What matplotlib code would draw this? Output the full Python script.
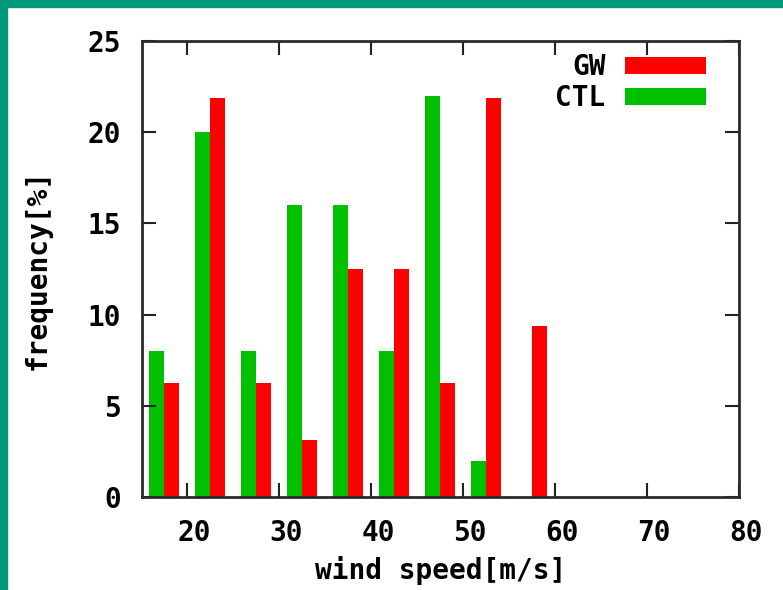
import matplotlib
matplotlib.use("Agg")
import matplotlib.pyplot as plt
import matplotlib.transforms as mtransforms
import numpy as np

# Данные гистограммы (центры интервалов скорости ветра)
bin_centers = [17.5, 22.5, 27.5, 32.5, 37.5, 42.5, 47.5, 52.5, 57.5]
ctl_freq = [8, 20, 8, 16, 16, 8, 22, 2, 0]
gw_freq = [6.25, 21.875, 6.25, 3.125, 12.5, 12.5, 6.25, 21.875, 9.375]
x_ticks = [20, 30, 40, 50, 60, 70, 80]
y_ticks = [0, 5, 10, 15, 20, 25]

plt.rcParams['font.family'] = ['DejaVu Sans Mono']
plt.rcParams['font.weight'] = 'bold'
plt.rcParams['axes.labelweight'] = 'bold'

W, H = 783, 590
fig = plt.figure(figsize=(W / 100, H / 100), dpi=100)
fig.patch.set_facecolor('white')

# зелёная рамка сверху и слева
fig.add_artist(plt.Rectangle((0, 1 - 7 / H), 1, 7 / H, transform=fig.transFigure,
                             color='#00997a', zorder=0))
fig.add_artist(plt.Rectangle((0, 0), 7 / W, 1, transform=fig.transFigure,
                             color='#00997a', zorder=0))

ax = fig.add_axes([142 / W, (H - 497) / H, (739 - 142) / W, (497 - 41) / H])

width = 1.6
x = np.array(bin_centers)
b_ctl = ax.bar(x - width / 2, ctl_freq, width=width, color='#00c000', linewidth=0)
b_gw = ax.bar(x + width / 2, gw_freq, width=width, color='#ff0000', linewidth=0)

ax.set_xlim(15.1, 80)
ax.set_ylim(0, 25)
ax.set_xticks(x_ticks)
ax.set_yticks(y_ticks)
ax.tick_params(direction='in', length=10, width=1.5, top=True, right=True,
               labelsize=20, colors='#222222', labelcolor='black')
ax.tick_params(axis='x', pad=16)
ax.tick_params(axis='y', pad=15)

# подписи оси X чуть сдвинуты вправо, как в gnuplot
offset = mtransforms.ScaledTranslation(7 / 100, 0, fig.dpi_scale_trans)
for lbl in ax.get_xticklabels():
    lbl.set_transform(lbl.get_transform() + offset)

for s in ax.spines.values():
    s.set_linewidth(2)
    s.set_color('#2a2a2a')

ax.set_xlabel('wind speed[m/s]', fontsize=20, labelpad=6)
ax.set_ylabel('frequency[%]', fontsize=20, labelpad=26)

ax.legend([b_gw, b_ctl], ['GW', 'CTL'], loc='upper right', frameon=False,
          markerfirst=False, fontsize=20, handlelength=2.9, handleheight=0.6,
          handletextpad=0.7, labelspacing=0.1, borderaxespad=0.3,
          bbox_to_anchor=(1 - 14 / 597, 1 + 7 / 456))

fig.savefig('out.png', dpi=100)
